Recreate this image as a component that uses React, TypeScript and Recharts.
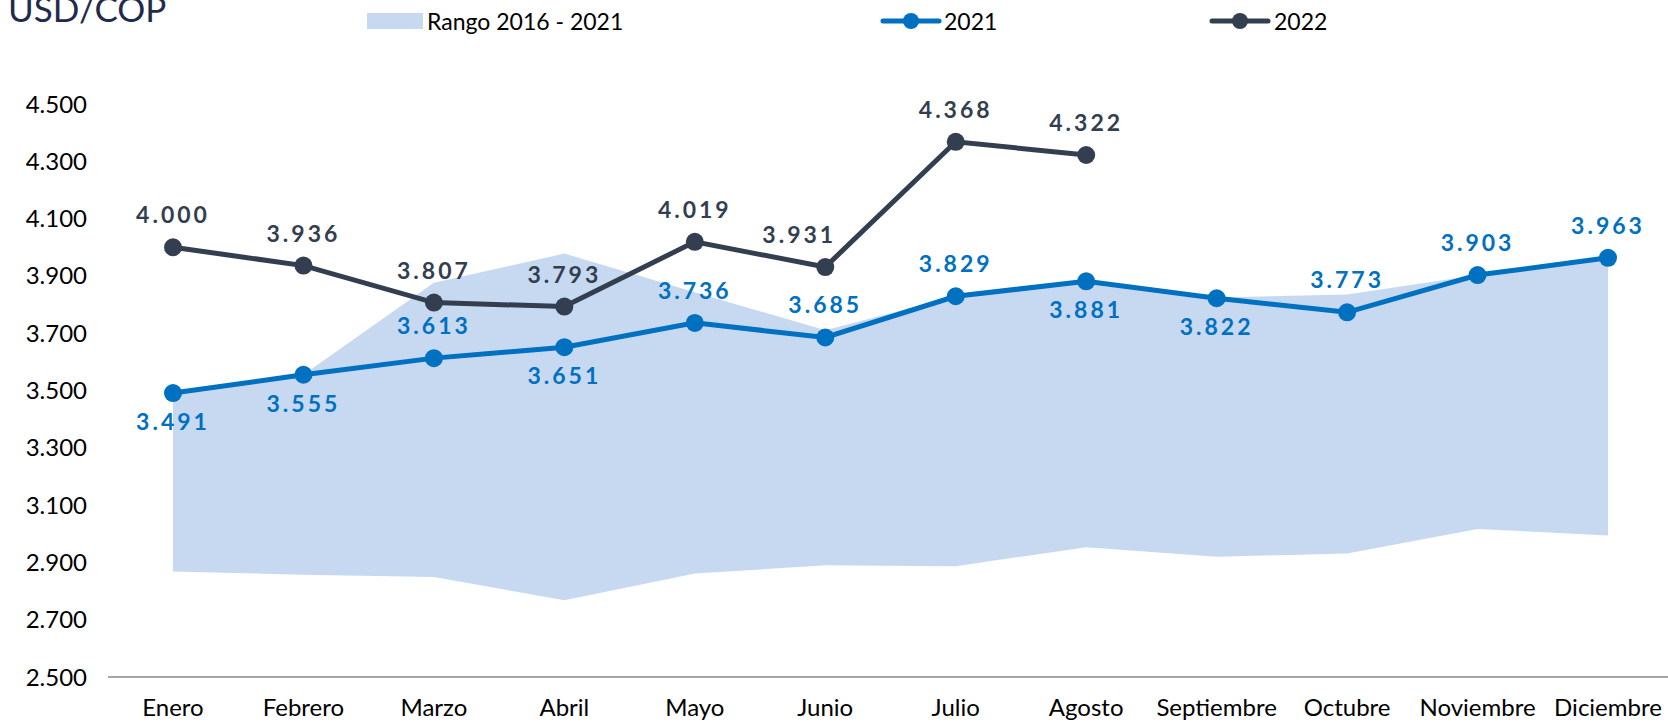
import {
  ComposedChart,
  Area,
  Line,
  XAxis,
  YAxis,
  LabelList,
} from 'recharts';

const months = [
  'Enero', 'Febrero', 'Marzo', 'Abril', 'Mayo', 'Junio',
  'Julio', 'Agosto', 'Septiembre', 'Octubre', 'Noviembre', 'Diciembre',
];
const rangoLow = [2868, 2857, 2849, 2768, 2861, 2890, 2887, 2953, 2920, 2931, 3017, 2994];
const rangoHigh = [3491, 3555, 3876, 3978, 3843, 3710, 3829, 3881, 3825, 3835, 3903, 3963];
const fx2021 = [3491, 3555, 3613, 3651, 3736, 3685, 3829, 3881, 3822, 3773, 3903, 3963];
const fx2022 = [4000, 3936, 3807, 3793, 4019, 3931, 4368, 4322];
const yTicks = [2500, 2700, 2900, 3100, 3300, 3500, 3700, 3900, 4100, 4300, 4500];

// where each 2021 label sits relative to its point
const side2021 = ['below', 'below', 'above', 'below', 'above', 'above', 'above', 'below', 'below', 'above', 'above', 'above'];

const BLUE = '#0070c0';
const DARK = '#333f50';
const BAND = '#c6d9f0';
const FONT = 'Lato, "Open Sans", sans-serif';

const data = months.map((m, i) => ({
  month: m,
  rango: [rangoLow[i], rangoHigh[i]],
  y2021: fx2021[i],
  y2022: i < fx2022.length ? fx2022[i] : null,
}));

const fmt = (v: number) => `${Math.floor(v / 1000)}.${String(v % 1000).padStart(3, '0')}`;

function Label2021(props: any) {
  const { x, y, value, index } = props;
  if (value == null) return null;
  const dy = side2021[index] === 'above' ? -33 : 28;
  return (
    <text x={x} y={y + dy} textAnchor="middle" dominantBaseline="central"
      fill={BLUE} fontSize={23} fontWeight={700} letterSpacing={3} fontFamily={FONT}>
      {fmt(value)}
    </text>
  );
}

function Label2022(props: any) {
  const { x, y, value, index } = props;
  if (value == null) return null;
  const dx = index === 5 ? -26 : 0;
  return (
    <text x={x + dx} y={y - 33} textAnchor="middle" dominantBaseline="central"
      fill={DARK} fontSize={23} fontWeight={700} letterSpacing={3} fontFamily={FONT}>
      {fmt(value)}
    </text>
  );
}

function LineIcon({ color }: { color: string }) {
  return (
    <svg width={62} height={20} style={{ display: 'block' }}>
      <line x1={3} y1={10} x2={59} y2={10} stroke={color} strokeWidth={5} strokeLinecap="round" />
      <circle cx={31} cy={10} r={8} fill={color} />
    </svg>
  );
}

export default function App() {
  const legendText = { position: 'absolute' as const, top: 7, fontSize: 23, color: '#000', lineHeight: '28px' };
  return (
    <div style={{ position: 'absolute', left: 0, top: 0, width: 1668, height: 723, fontFamily: FONT, overflow: 'hidden', background: '#fff' }}>
      <div style={{ position: 'absolute', left: 8, top: -13, fontSize: 35, color: '#1f2a4c', lineHeight: '42px' }}>
        USD/COP
      </div>
      <div style={{ position: 'absolute', left: 367, top: 13, width: 56, height: 16, background: BAND }} />
      <div style={{ ...legendText, left: 427 }}>Rango 2016 - 2021</div>
      <div style={{ position: 'absolute', left: 880, top: 11 }}><LineIcon color={BLUE} /></div>
      <div style={{ ...legendText, left: 944 }}>2021</div>
      <div style={{ position: 'absolute', left: 1209, top: 11 }}><LineIcon color={DARK} /></div>
      <div style={{ ...legendText, left: 1274 }}>2022</div>

      <ComposedChart width={1668} height={723} data={data}
        margin={{ top: 104, right: 0, bottom: 0, left: 8 }}>
        <XAxis dataKey="month" interval={0} tickLine={false} height={46}
          padding={{ left: 65, right: 60 }}
          axisLine={{ stroke: '#a6a6a6', strokeWidth: 2 }}
          tick={{ fontSize: 24, fill: '#000', fontFamily: FONT }} tickMargin={16} />
        <YAxis domain={[2500, 4500]} ticks={yTicks} width={100} axisLine={false} tickLine={false}
          tickFormatter={fmt} tickMargin={15}
          tick={{ fontSize: 24, fill: '#000', fontFamily: FONT }} />
        <Area dataKey="rango" type="linear" stroke="none" fill={BAND} fillOpacity={1}
          isAnimationActive={false} activeDot={false} />
        <Line dataKey="y2021" type="linear" stroke={BLUE} strokeWidth={5}
          dot={{ r: 9, fill: BLUE, stroke: BLUE, strokeWidth: 0 }} activeDot={false}
          isAnimationActive={false}>
          <LabelList dataKey="y2021" content={<Label2021 />} />
        </Line>
        <Line dataKey="y2022" type="linear" stroke={DARK} strokeWidth={5}
          dot={{ r: 9, fill: DARK, stroke: DARK, strokeWidth: 0 }} activeDot={false}
          isAnimationActive={false} connectNulls={false}>
          <LabelList dataKey="y2022" content={<Label2022 />} />
        </Line>
      </ComposedChart>
    </div>
  );
}
